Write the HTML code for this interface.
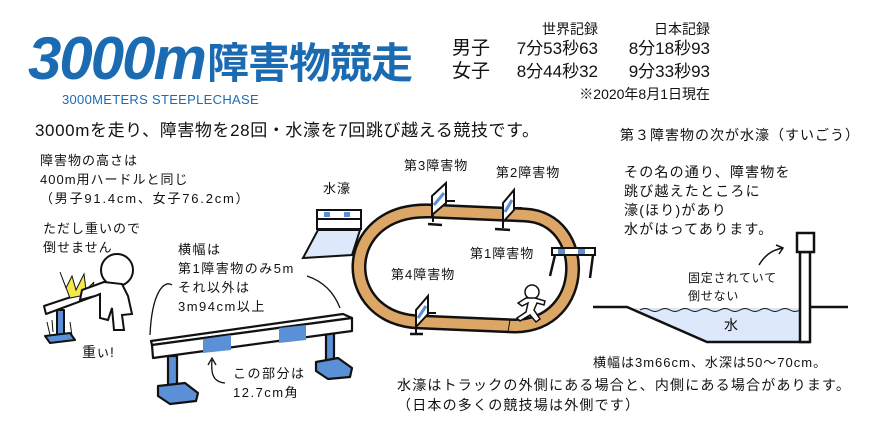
<!DOCTYPE html>
<html><head><meta charset="utf-8">
<style>
html,body{margin:0;padding:0;background:#fff;}
svg{display:block;}
text{font-family:"Liberation Sans","Noto Sans CJK JP",sans-serif;fill:#111;}
</style></head>
<body>
<svg width="880" height="440" viewBox="0 0 880 440" xmlns="http://www.w3.org/2000/svg">
<!-- Title -->
<text x="28" y="79" font-size="60" font-weight="bold" font-style="italic" style="fill:#1b6bb3" letter-spacing="-2">3000m</text>
<text x="207" y="78" font-size="42" font-weight="bold" style="fill:#1b6bb3" letter-spacing="-1">障害物競走</text>
<text x="62" y="104" font-size="13" style="fill:#1b6bb3" font-family="Liberation Mono" letter-spacing="0.3">3000METERS STEEPLECHASE</text>

<!-- Records -->
<text x="598" y="34" font-size="14" text-anchor="end">世界記録</text>
<text x="710" y="34" font-size="14" text-anchor="end">日本記録</text>
<text x="452" y="54" font-size="19">男子</text>
<text x="452" y="77" font-size="19">女子</text>
<text x="598" y="54" font-size="17" text-anchor="end">7分53秒63</text>
<text x="710" y="54" font-size="17" text-anchor="end">8分18秒93</text>
<text x="598" y="77" font-size="17" text-anchor="end">8分44秒32</text>
<text x="710" y="77" font-size="17" text-anchor="end">9分33秒93</text>
<text x="710" y="99" font-size="14" text-anchor="end">※2020年8月1日現在</text>

<text x="35" y="136" font-size="17" letter-spacing="0.6">3000mを走り、障害物を28回・水濠を7回跳び越える競技です。</text>

<!-- left texts -->
<g font-size="13">
<text x="40" y="165" letter-spacing="1">障害物の高さは</text>
<text x="40" y="184" letter-spacing="1">400m用ハードルと同じ</text>
<text x="40" y="203" letter-spacing="1.8">（男子91.4cm、女子76.2cm）</text>
<text x="43" y="233" letter-spacing="1">ただし重いので</text>
<text x="43" y="252" letter-spacing="1">倒せません</text>
<text x="178" y="254" letter-spacing="1.5">横幅は</text>
<text x="178" y="273" letter-spacing="1.5">第1障害物のみ5m</text>
<text x="178" y="292" letter-spacing="1.5">それ以外は</text>
<text x="178" y="311" letter-spacing="1.5">3m94cm以上</text>
<text x="233" y="378" letter-spacing="1.5">この部分は</text>
<text x="233" y="397" letter-spacing="1.5">12.7cm角</text>
<text x="82" y="357" font-size="14">重ぃ!</text>
<text x="323" y="193" letter-spacing="1">水濠</text>
<text x="404" y="170" letter-spacing="1">第3障害物</text>
<text x="496" y="177" letter-spacing="1">第2障害物</text>
<text x="470" y="258" letter-spacing="1">第1障害物</text>
<text x="391" y="279" letter-spacing="1">第4障害物</text>
</g>

<!-- right texts -->
<text x="620" y="140" font-size="14" letter-spacing="1">第３障害物の次が水濠（すいごう）</text>
<g font-size="14" letter-spacing="1.2">
<text x="624" y="177">その名の通り、障害物を</text>
<text x="624" y="196">跳び越えたところに</text>
<text x="624" y="215">濠(ほり)があり</text>
<text x="624" y="234">水がはってあります。</text>
</g>
<text x="688" y="282" font-size="12" letter-spacing="0.8">固定されていて</text>
<text x="688" y="300" font-size="12" letter-spacing="0.8">倒せない</text>
<text x="593" y="367" font-size="13" letter-spacing="1">横幅は3m66cm、水深は50〜70cm。</text>
<text x="397" y="390" font-size="14" letter-spacing="1.2">水濠はトラックの外側にある場合と、内側にある場合があります。</text>
<text x="397" y="410" font-size="14" letter-spacing="1.2">（日本の多くの競技場は外側です）</text>

<!-- Track -->
<path d="M430 211 L525 215 C590 218 590 325 515 326 L420 322 C337 320 337 208 430 211 Z" fill="none" stroke="#111" stroke-width="15"/>
<path d="M430 211 L525 215 C590 218 590 325 515 326 L420 322 C337 320 337 208 430 211 Z" fill="none" stroke="#dca766" stroke-width="10"/>
<line x1="510" y1="320" x2="508" y2="332" stroke="#111" stroke-width="1"/>
<!-- track hurdles -->
<g stroke="#111" stroke-width="2" fill="#fff">
<path d="M432 196 L446 183 L446 203 L432 215 Z"/><line x1="433" y1="215" x2="433" y2="222"/><line x1="428" y1="224" x2="442" y2="225" stroke-width="2.5"/><line x1="446" y1="201" x2="455" y2="201"/>
<path d="M503 203 L514 190 L514 210 L503 222 Z"/><line x1="503" y1="222" x2="503" y2="228"/><line x1="495" y1="229" x2="510" y2="230" stroke-width="2.5"/><line x1="514" y1="208" x2="522" y2="208"/>
<path d="M416 310 L428 296 L428 314 L416 327 Z"/><line x1="416" y1="327" x2="416" y2="333"/><line x1="410" y1="334" x2="423" y2="334" stroke-width="2.5"/><line x1="428" y1="313" x2="436" y2="313"/>
<rect x="552" y="248" width="43" height="7"/>
<line x1="555" y1="255" x2="550" y2="276" stroke-width="2.5"/><line x1="593" y1="255" x2="590" y2="278" stroke-width="2.5"/>
</g>
<rect x="558" y="249" width="7" height="5" fill="#5b8fd6"/><rect x="578" y="249" width="7" height="5" fill="#5b8fd6"/>
<g stroke="#5b8fd6" stroke-width="3"><line x1="434" y1="205" x2="444" y2="193"/><line x1="505" y1="212" x2="512" y2="200"/><line x1="418" y1="318" x2="426" y2="306"/></g>
<!-- runner on track -->
<g stroke="#111" stroke-width="1.5" fill="#fff">
<circle cx="532" cy="292" r="7"/>
<path d="M526 298 L518 303 L522 306 L528 303 L526 312 L517 318 L520 321 L530 315 L536 322 L540 319 L534 310 L537 303 L544 305 L545 301 L535 298 Z"/>
</g>

<!-- water jump icon -->
<g stroke="#111" stroke-width="2">
<rect x="317" y="210" width="44" height="9" fill="#fff"/>
<rect x="317" y="219" width="44" height="10" fill="#fff"/>
<path d="M318 230 L360 230 L352 255 L303 258 Z" fill="#dde9fb"/>
</g>
<rect x="324" y="212" width="6" height="5" fill="#5b8fd6"/><rect x="344" y="212" width="6" height="5" fill="#5b8fd6"/>

<!-- arcs -->
<path d="M150 335 C152 290 165 280 172 285" fill="none" stroke="#111" stroke-width="1.3"/>
<path d="M307 276 C325 282 335 295 340 308" fill="none" stroke="#111" stroke-width="1.3"/>
<path d="M225 383 C212 382 211 372 212 360 M208 365 L212 358 L216 365" fill="none" stroke="#111" stroke-width="1.3"/>

<!-- big hurdle -->
<g stroke="#111" stroke-width="2.2" stroke-linejoin="round">
<rect x="168" y="356" width="9" height="36" fill="#5b8fd6"/>
<path d="M158 386 L185 383 L198 393 L196 401 L170 404 L158 396 Z" fill="#5b8fd6"/>
<rect x="326" y="330" width="8" height="32" fill="#5b8fd6"/>
<path d="M316 362 L338 358 L352 368 L350 377 L328 379 L316 371 Z" fill="#5b8fd6"/>
<path d="M151 341 L343 314 L352 318 L152 345 Z" fill="#fff"/>
<path d="M152 345 L352 318 L352 331 L153 358 Z" fill="#fff"/>
</g>
<path d="M203 339 L231 335 L231 350 L203 353 Z" fill="#5b8fd6"/>
<path d="M279 328 L306 325 L306 340 L279 343 Z" fill="#5b8fd6"/>

<!-- small kicked hurdle -->
<g stroke="#111" stroke-width="2" stroke-linejoin="round">
<rect x="57" y="310" width="7" height="25" fill="#5b8fd6"/>
<path d="M45 336 L70 333 L75 340 L50 343 Z" fill="#5b8fd6"/>
<path d="M44 306 L98 288 L100 294 L46 314 Z" fill="#fff"/>
</g>
<path d="M60 272 L66 288 L72 276 L76 290 L84 274 L86 290 L94 282 L90 294 L70 298 Z" fill="#f5e94a" stroke="#111" stroke-width="1"/>
<g stroke="#111" stroke-width="1" fill="none"><path d="M47 322 L50 335 M52 320 L53 332 M70 322 L72 336"/></g>
<!-- stick figure -->
<g stroke="#111" stroke-width="2" fill="#fff">
<circle cx="117" cy="270" r="16"/>
<path d="M104 282 L82 290 L80 300 L95 296 L100 294 L100 318 L108 320 L112 308 L114 330 L124 330 L122 315 L132 314 L128 296 L122 284 Z"/>
</g>

<!-- water pit diagram -->
<path d="M628 308 L800 308 L800 342 L707 342 Z" fill="#dde9fb"/>
<path d="M640 310 q5 -3 10 0 t10 0 t10 0 t10 0 t10 0 t10 0 t10 0 t10 0 t10 0 t10 0 t10 0 t10 0 t10 0 t10 0 t10 0 t10 0" fill="none" stroke="#111" stroke-width="1"/>
<g stroke="#111" stroke-width="2.5" fill="none">
<path d="M593 307 L627 307 L707 342 L810 342"/>
<line x1="810" y1="307" x2="848" y2="307"/>
<rect x="800" y="252" width="10" height="90" fill="#fff"/>
<rect x="797" y="233" width="17" height="19" fill="#fff"/>
</g>
<path d="M759 265 C765 255 772 250 783 248 M776 245 L783 248 L779 254" fill="none" stroke="#111" stroke-width="1.5"/>
<text x="724" y="330" font-size="14">水</text>
</svg>
</body></html>
